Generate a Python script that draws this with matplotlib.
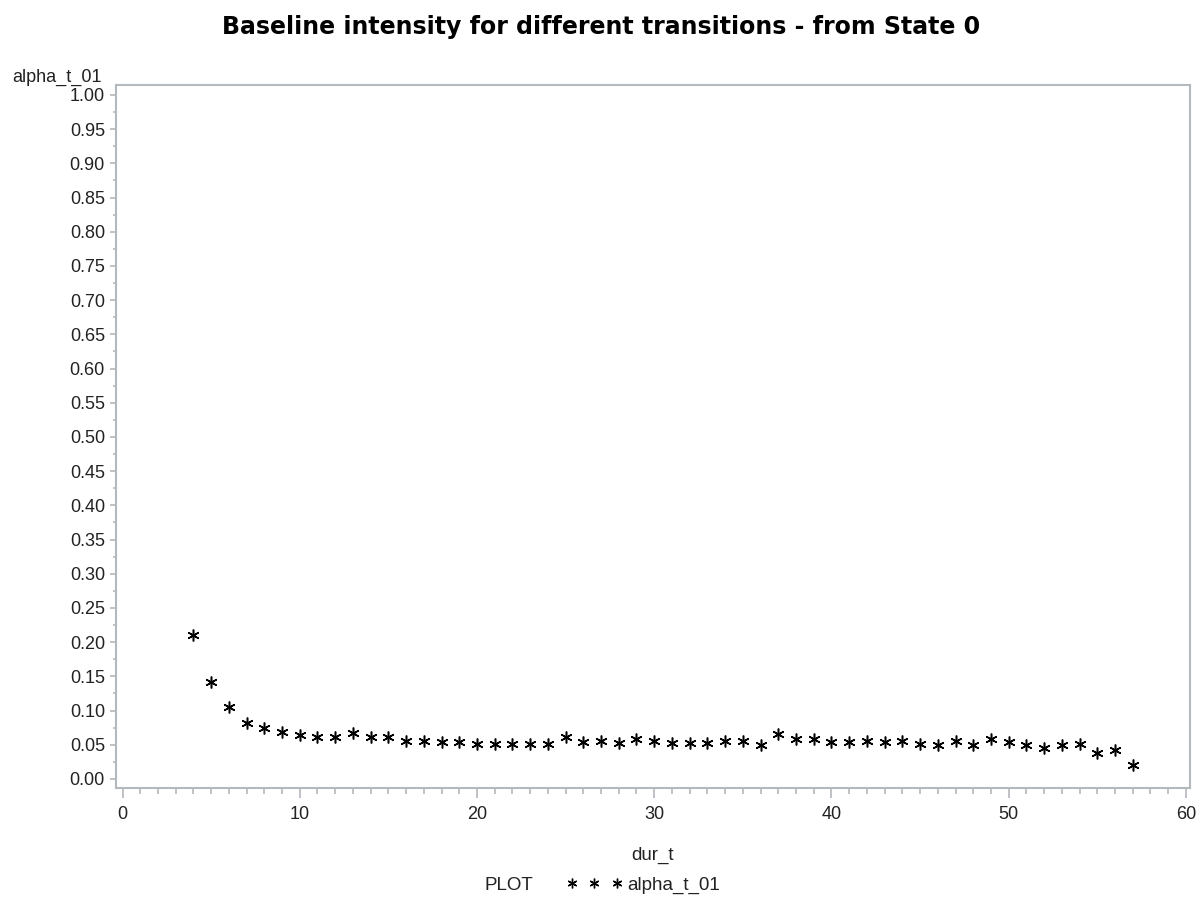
import matplotlib
matplotlib.use('Agg')
import matplotlib.pyplot as plt
from matplotlib.lines import Line2D
from matplotlib.ticker import MultipleLocator, FormatStrFormatter

plt.rcParams['font.family'] = ['Liberation Sans', 'DejaVu Sans']

# data
dur_t = list(range(4, 58))
alpha_t_01 = [0.210, 0.142, 0.105, 0.082, 0.074, 0.069, 0.065, 0.061, 0.061, 0.067,
              0.062, 0.061, 0.056, 0.056, 0.054, 0.054, 0.051, 0.051, 0.051, 0.051,
              0.051, 0.061, 0.054, 0.056, 0.053, 0.058, 0.055, 0.053, 0.053, 0.053,
              0.055, 0.055, 0.049, 0.066, 0.058, 0.058, 0.054, 0.054, 0.055, 0.054,
              0.055, 0.051, 0.049, 0.055, 0.049, 0.058, 0.054, 0.049, 0.045, 0.050,
              0.051, 0.038, 0.042, 0.021]

title = 'Baseline intensity for different transitions - from State 0'
frame_col = '#b4b9be'
txt_col = '#222222'
star = (6, 2, 0)

fig = plt.figure(figsize=(12.03, 9.01), dpi=100)
ax = fig.add_axes([116/1203, 1-788/901, (1190-116)/1203, (788-85)/901])

ax.plot(dur_t, alpha_t_01, linestyle='none', marker=star, markersize=8.5,
        markeredgewidth=1.1, color='black')

ax.set_xlim(-0.367, 60.23)
ax.set_ylim(-0.0132, 1.0146)
ax.xaxis.set_major_locator(MultipleLocator(10))
ax.xaxis.set_minor_locator(MultipleLocator(1))
ax.yaxis.set_major_locator(MultipleLocator(0.05))
ax.yaxis.set_minor_locator(MultipleLocator(0.025))
ax.yaxis.set_major_formatter(FormatStrFormatter('%.2f'))

for s in ax.spines.values():
    s.set_color(frame_col)
    s.set_linewidth(1.5)

ax.tick_params(axis='both', which='both', direction='out', color=frame_col,
               width=1.2, labelcolor=txt_col, labelsize=13)
ax.tick_params(axis='x', which='major', length=7.2, pad=6)
ax.tick_params(axis='x', which='minor', length=4.3)
ax.tick_params(axis='y', which='major', length=4, pad=4)
ax.tick_params(axis='y', which='minor', length=2.3)

fig.text(0.5, 1-27/901, title, ha='center', va='center', fontsize=17,
         fontweight='bold', color='black', family=['DejaVu Sans'])
fig.text(102/1203, 1-82/901, 'alpha_t_01', ha='right', va='baseline',
         fontsize=13, color=txt_col)
fig.text(653/1203, 1-855/901, 'dur_t', ha='center', va='center',
         fontsize=13.5, color=txt_col)
fig.text(485/1203, 1-885/901, 'PLOT', ha='left', va='center',
         fontsize=13.5, color=txt_col)

h = Line2D([], [], linestyle='none', marker=star, markersize=7,
           markeredgewidth=1.0, color='black')
fig.legend(handles=[h], labels=['alpha_t_01'], numpoints=3, frameon=False,
           loc='center left', bbox_to_anchor=(566/1203, 1-885/901),
           handlelength=3.0, handletextpad=0.25, borderpad=0, borderaxespad=0,
           fontsize=13.5, labelcolor=txt_col)

fig.savefig('out.png', dpi=100, facecolor='white')
